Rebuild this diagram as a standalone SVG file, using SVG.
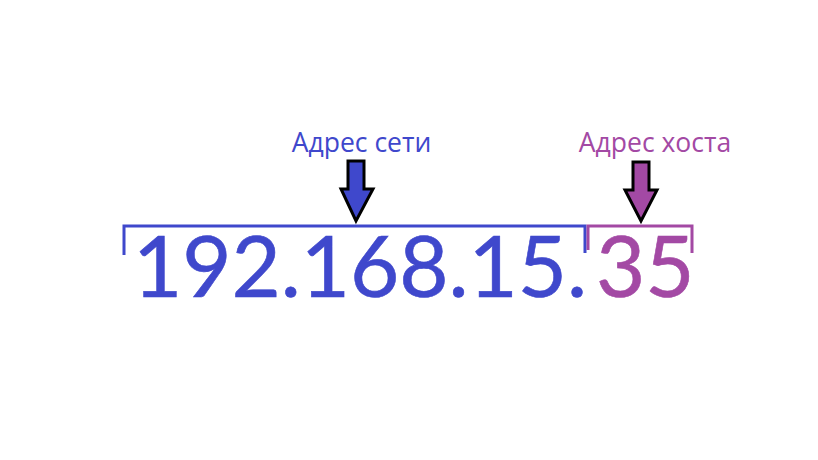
<svg xmlns="http://www.w3.org/2000/svg" width="818" height="460" viewBox="0 0 818 460">
<style>
.num{font-family:Lato,"Open Sans","DejaVu Sans",sans-serif;font-size:85px;stroke-width:0.6}
.lbl{font-family:"Open Sans","Noto Sans","DejaVu Sans",sans-serif;font-size:26.5px;text-anchor:middle}
.net{fill:#3f48cc}
.host{fill:#a349a4}
.num.net{stroke:#3f48cc}
.num.host{stroke:#a349a4}
.arrow{stroke:#000;stroke-width:3;stroke-linejoin:miter}
.br{fill:none;stroke-width:3}
</style>
<rect width="818" height="460" fill="#fff"/>
<g id="label-network">
<text class="lbl net" x="361.5" y="152">Адрес сети</text>
</g>
<g id="label-host">
<text class="lbl host" x="655" y="152">Адрес хоста</text>
</g>
<g id="address">
<text class="num net" x="133" y="297" textLength="454" lengthAdjust="spacing">192.168.15.</text>
<text class="num host" x="596" y="297">35</text>
</g>
<g id="connectors">
<polyline class="br" stroke="#3f48cc" points="124,255 124,226 585,226 585,253"/>
<polyline class="br" stroke="#a349a4" points="588,250 588,226 692,226 692,253"/>
<polygon class="arrow net" points="348,161 364,161 364,189 373,189 356,221 341,189 348,189"/>
<polygon class="arrow host" points="633,162 649,162 649,190 657,190 641,221 625,190 633,190"/>
</g>
</svg>
